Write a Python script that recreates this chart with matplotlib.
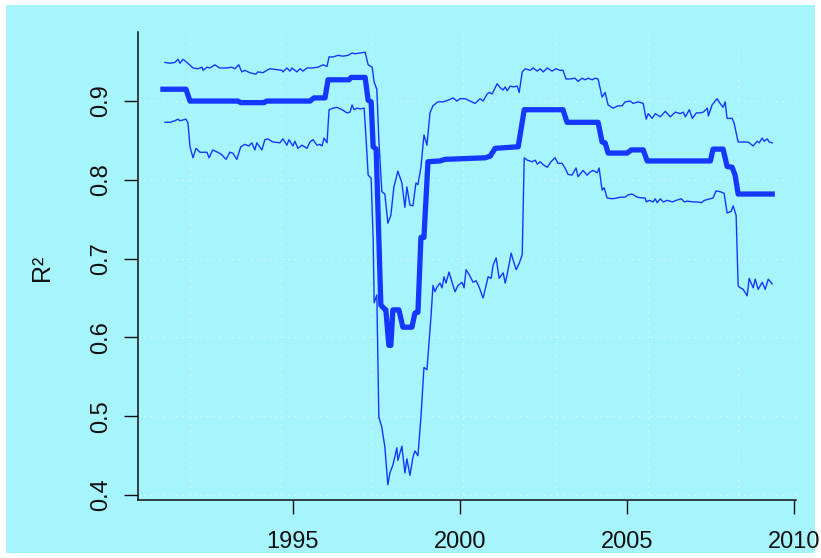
import matplotlib
matplotlib.use("Agg")
import matplotlib.pyplot as plt
from matplotlib.patches import Rectangle

BG = "#a6f4fc"; BLUE = "#1438ff"; GRID = "#d6fafe"; INK = "#111111"
plt.rcParams["font.family"] = ["Liberation Sans", "DejaVu Sans"]

# rolling R^2: central estimate (thick) and upper/lower band (thin)
mid_x = [1991.11, 1991.80, 1991.92, 1993.35, 1993.44, 1994.13, 1994.22, 1995.51, 1995.63,
         1995.96, 1996.05, 1996.68, 1996.74, 1997.16, 1997.25, 1997.34, 1997.40, 1997.49,
         1997.63, 1997.72, 1997.78, 1997.87, 1997.93, 1997.99, 1998.17, 1998.29, 1998.56,
         1998.65, 1998.74, 1998.83, 1998.92, 1999.04, 1999.40, 1999.55, 2000.75, 2000.90,
         2001.05, 2001.74, 2001.92, 2003.08, 2003.20, 2004.13, 2004.25, 2004.34, 2004.43,
         2005.00, 2005.12, 2005.48, 2005.60, 2007.49, 2007.57, 2007.87, 2007.99, 2008.14,
         2008.23, 2008.32, 2009.34]
mid_y = [0.915, 0.915, 0.900, 0.900, 0.898, 0.898, 0.900, 0.900, 0.904,
         0.904, 0.927, 0.927, 0.930, 0.930, 0.901, 0.899, 0.842, 0.839,
         0.641, 0.637, 0.635, 0.590, 0.590, 0.635, 0.635, 0.613, 0.613,
         0.631, 0.632, 0.727, 0.727, 0.823, 0.824, 0.826, 0.828, 0.830,
         0.840, 0.842, 0.889, 0.889, 0.873, 0.873, 0.848, 0.847, 0.834,
         0.834, 0.838, 0.838, 0.824, 0.824, 0.839, 0.839, 0.817, 0.816,
         0.806, 0.782, 0.782]

up_x = [1991.17, 1991.32, 1991.47, 1991.56, 1991.62, 1991.71, 1991.83, 1992.01, 1992.16,
        1992.28, 1992.31, 1992.43, 1992.52, 1992.66, 1992.81, 1993.02, 1993.17, 1993.26,
        1993.38, 1993.47, 1993.56, 1993.71, 1993.89, 1993.95, 1994.10, 1994.22, 1994.31,
        1994.67, 1994.70, 1994.82, 1994.91, 1994.97, 1995.12, 1995.21, 1995.30, 1995.42,
        1995.57, 1995.75, 1995.90, 1996.02, 1996.08, 1996.20, 1996.35, 1996.50, 1996.65,
        1996.77, 1996.86, 1997.01, 1997.16, 1997.25, 1997.37, 1997.43, 1997.51, 1997.57,
        1997.66, 1997.75, 1997.84, 1997.93, 1998.02, 1998.14, 1998.26, 1998.35, 1998.41,
        1998.50, 1998.59, 1998.68, 1998.74, 1998.83, 1998.92, 1999.01, 1999.10, 1999.19,
        1999.34, 1999.49, 1999.64, 1999.79, 1999.91, 2000.00, 2000.15, 2000.30, 2000.45,
        2000.60, 2000.69, 2000.81, 2000.87, 2000.96, 2001.11, 2001.20, 2001.29, 2001.35,
        2001.41, 2001.50, 2001.59, 2001.71, 2001.77, 2001.86, 2001.95, 2002.10, 2002.19,
        2002.31, 2002.40, 2002.49, 2002.61, 2002.75, 2002.87, 2002.99, 2003.08, 2003.17,
        2003.29, 2003.44, 2003.53, 2003.65, 2003.74, 2003.83, 2003.95, 2004.04, 2004.13,
        2004.25, 2004.34, 2004.43, 2004.58, 2004.73, 2004.85, 2004.94, 2005.09, 2005.18,
        2005.33, 2005.48, 2005.57, 2005.63, 2005.75, 2005.84, 2005.99, 2006.14, 2006.29,
        2006.44, 2006.59, 2006.68, 2006.74, 2006.86, 2006.95, 2007.07, 2007.19, 2007.28,
        2007.40, 2007.43, 2007.54, 2007.69, 2007.78, 2007.87, 2007.93, 2007.99, 2008.14,
        2008.20, 2008.32, 2008.47, 2008.62, 2008.77, 2008.89, 2008.95, 2009.04, 2009.10,
        2009.19, 2009.25, 2009.34]
up_y = [0.949, 0.948, 0.949, 0.953, 0.948, 0.953, 0.949, 0.942, 0.941,
        0.943, 0.939, 0.943, 0.942, 0.946, 0.942, 0.942, 0.943, 0.941,
        0.946, 0.937, 0.939, 0.936, 0.934, 0.937, 0.936, 0.939, 0.941,
        0.939, 0.937, 0.942, 0.938, 0.942, 0.937, 0.941, 0.938, 0.942,
        0.942, 0.943, 0.946, 0.944, 0.956, 0.956, 0.958, 0.957, 0.958,
        0.961, 0.960, 0.961, 0.962, 0.946, 0.943, 0.924, 0.915, 0.851,
        0.785, 0.782, 0.745, 0.755, 0.791, 0.811, 0.796, 0.765, 0.791,
        0.768, 0.767, 0.796, 0.794, 0.816, 0.857, 0.844, 0.885, 0.894,
        0.899, 0.899, 0.901, 0.904, 0.900, 0.903, 0.903, 0.900, 0.897,
        0.903, 0.900, 0.909, 0.911, 0.909, 0.922, 0.917, 0.914, 0.918,
        0.913, 0.919, 0.918, 0.919, 0.911, 0.937, 0.941, 0.939, 0.942,
        0.938, 0.941, 0.937, 0.942, 0.938, 0.941, 0.939, 0.939, 0.928,
        0.928, 0.929, 0.925, 0.929, 0.927, 0.929, 0.927, 0.929, 0.928,
        0.905, 0.911, 0.895, 0.891, 0.894, 0.894, 0.899, 0.900, 0.897,
        0.899, 0.897, 0.877, 0.884, 0.878, 0.884, 0.880, 0.887, 0.880,
        0.886, 0.884, 0.886, 0.880, 0.889, 0.878, 0.885, 0.885, 0.886,
        0.891, 0.881, 0.895, 0.903, 0.897, 0.892, 0.899, 0.878, 0.878,
        0.872, 0.848, 0.848, 0.848, 0.843, 0.849, 0.847, 0.853, 0.849,
        0.852, 0.848, 0.847]

lo_x = [1991.17, 1991.32, 1991.47, 1991.56, 1991.62, 1991.71, 1991.80, 1991.86, 1991.92,
        1992.01, 1992.10, 1992.22, 1992.43, 1992.49, 1992.60, 1992.75, 1992.87, 1993.00,
        1993.11, 1993.20, 1993.32, 1993.44, 1993.56, 1993.68, 1993.77, 1993.86, 1993.92,
        1994.07, 1994.16, 1994.25, 1994.40, 1994.61, 1994.70, 1994.82, 1994.88, 1995.00,
        1995.06, 1995.15, 1995.27, 1995.42, 1995.51, 1995.60, 1995.72, 1995.81, 1995.87,
        1995.93, 1996.02, 1996.08, 1996.20, 1996.32, 1996.47, 1996.62, 1996.71, 1996.77,
        1996.83, 1996.92, 1997.01, 1997.13, 1997.19, 1997.25, 1997.34, 1997.40, 1997.43,
        1997.51, 1997.57, 1997.66, 1997.75, 1997.84, 1997.90, 1997.99, 1998.11, 1998.14,
        1998.26, 1998.35, 1998.41, 1998.50, 1998.59, 1998.65, 1998.74, 1998.83, 1998.92,
        1999.01, 1999.13, 1999.19, 1999.25, 1999.31, 1999.40, 1999.46, 1999.52, 1999.58,
        1999.67, 1999.79, 1999.85, 1999.94, 2000.06, 2000.12, 2000.18, 2000.27, 2000.39,
        2000.48, 2000.57, 2000.69, 2000.78, 2000.84, 2000.93, 2000.99, 2001.08, 2001.17,
        2001.29, 2001.35, 2001.41, 2001.53, 2001.59, 2001.68, 2001.77, 2001.86, 2001.92,
        2002.01, 2002.16, 2002.25, 2002.31, 2002.40, 2002.49, 2002.61, 2002.72, 2002.84,
        2002.93, 2003.05, 2003.14, 2003.23, 2003.35, 2003.47, 2003.53, 2003.68, 2003.80,
        2003.89, 2003.98, 2004.10, 2004.16, 2004.25, 2004.31, 2004.40, 2004.55, 2004.70,
        2004.79, 2004.94, 2005.03, 2005.15, 2005.30, 2005.45, 2005.54, 2005.57, 2005.66,
        2005.78, 2005.84, 2005.90, 2005.99, 2006.08, 2006.20, 2006.35, 2006.47, 2006.62,
        2006.71, 2006.80, 2006.98, 2007.10, 2007.22, 2007.31, 2007.49, 2007.57, 2007.66,
        2007.78, 2007.90, 2007.99, 2008.11, 2008.17, 2008.26, 2008.32, 2008.35, 2008.47,
        2008.59, 2008.65, 2008.77, 2008.83, 2008.92, 2009.04, 2009.13, 2009.22, 2009.34]
lo_y = [0.873, 0.873, 0.875, 0.877, 0.875, 0.876, 0.877, 0.872, 0.842,
        0.828, 0.840, 0.835, 0.835, 0.828, 0.838, 0.835, 0.832, 0.826,
        0.835, 0.834, 0.826, 0.842, 0.845, 0.843, 0.847, 0.838, 0.847,
        0.838, 0.851, 0.852, 0.848, 0.847, 0.852, 0.844, 0.851, 0.843,
        0.849, 0.840, 0.844, 0.840, 0.848, 0.851, 0.844, 0.845, 0.843,
        0.853, 0.847, 0.889, 0.891, 0.892, 0.889, 0.885, 0.886, 0.895,
        0.889, 0.891, 0.890, 0.891, 0.851, 0.806, 0.802, 0.724, 0.644,
        0.654, 0.499, 0.486, 0.461, 0.413, 0.428, 0.438, 0.460, 0.444,
        0.462, 0.428, 0.446, 0.425, 0.448, 0.456, 0.450, 0.499, 0.562,
        0.559, 0.626, 0.666, 0.658, 0.664, 0.669, 0.663, 0.677, 0.669,
        0.683, 0.666, 0.658, 0.666, 0.670, 0.663, 0.686, 0.680, 0.670,
        0.672, 0.664, 0.650, 0.666, 0.677, 0.675, 0.692, 0.701, 0.675,
        0.682, 0.669, 0.680, 0.707, 0.698, 0.686, 0.694, 0.705, 0.828,
        0.825, 0.823, 0.825, 0.820, 0.823, 0.819, 0.816, 0.823, 0.828,
        0.821, 0.821, 0.815, 0.807, 0.806, 0.815, 0.804, 0.812, 0.806,
        0.810, 0.812, 0.809, 0.815, 0.787, 0.790, 0.777, 0.776, 0.777,
        0.778, 0.778, 0.781, 0.782, 0.778, 0.777, 0.777, 0.772, 0.774,
        0.772, 0.776, 0.771, 0.776, 0.772, 0.774, 0.772, 0.774, 0.776,
        0.772, 0.773, 0.772, 0.772, 0.771, 0.774, 0.776, 0.777, 0.786,
        0.785, 0.783, 0.758, 0.760, 0.767, 0.755, 0.666, 0.664, 0.661,
        0.653, 0.675, 0.663, 0.674, 0.661, 0.670, 0.661, 0.674, 0.668]

x_ticks = [1995, 2000, 2005, 2010]
y_ticks = [0.4, 0.5, 0.6, 0.7, 0.8, 0.9]
y_labels = ["0.4", "0.5", "0.6", "0.7", "0.8", "0.9"]
grid_x = [1991.92, 1994.64, 1997.37, 2000.09, 2002.87, 2005.63, 2008.32]

fig = plt.figure(figsize=(8.21, 5.58), dpi=100)
fig.patch.set_facecolor("white")
fig.patches.append(Rectangle((0.0073, 0.009), 0.9854, 0.982, transform=fig.transFigure,
                             facecolor=BG, edgecolor="none", zorder=-10))
ax = fig.add_axes([0.1675, 0.1039, 0.802, 0.8387])
ax.set_zorder(5)
ax.set_facecolor("none")

# faint dotted grid
for g in grid_x:
    ax.axvline(g, color=GRID, lw=0.9, ls=(0, (1, 4)), zorder=1)
for g in y_ticks:
    ax.axhline(g, color=GRID, lw=0.9, ls=(0, (1, 4)), zorder=1)

ax.plot(up_x, up_y, color=BLUE, lw=1.0, zorder=3)
ax.plot(lo_x, lo_y, color=BLUE, lw=1.0, zorder=3)
ax.plot(mid_x, mid_y, color=BLUE, lw=3.8, zorder=4, solid_joinstyle="round")

ax.set_xlim(1990.35, 2010.05)
ax.set_ylim(0.3937, 0.9876)
ax.set_xticks(x_ticks)
ax.set_xticklabels([str(t) for t in x_ticks])
ax.set_yticks(y_ticks)
ax.set_yticklabels(y_labels, rotation=90, va="center")

for s in ["top", "right"]:
    ax.spines[s].set_visible(False)
for s in ["left", "bottom"]:
    ax.spines[s].set_linewidth(1.1)
    ax.spines[s].set_color(INK)
ax.tick_params(axis="both", direction="out", length=10, width=1.0, colors=INK, labelsize=17)
ax.tick_params(axis="x", pad=12.5)
ax.tick_params(axis="y", pad=8.5)

fig.text(42 / 821, 1 - 268 / 558, "R²", rotation=90, ha="center", va="center",
         fontsize=18, color=INK)

fig.savefig("out.png", dpi=100, facecolor="white")
